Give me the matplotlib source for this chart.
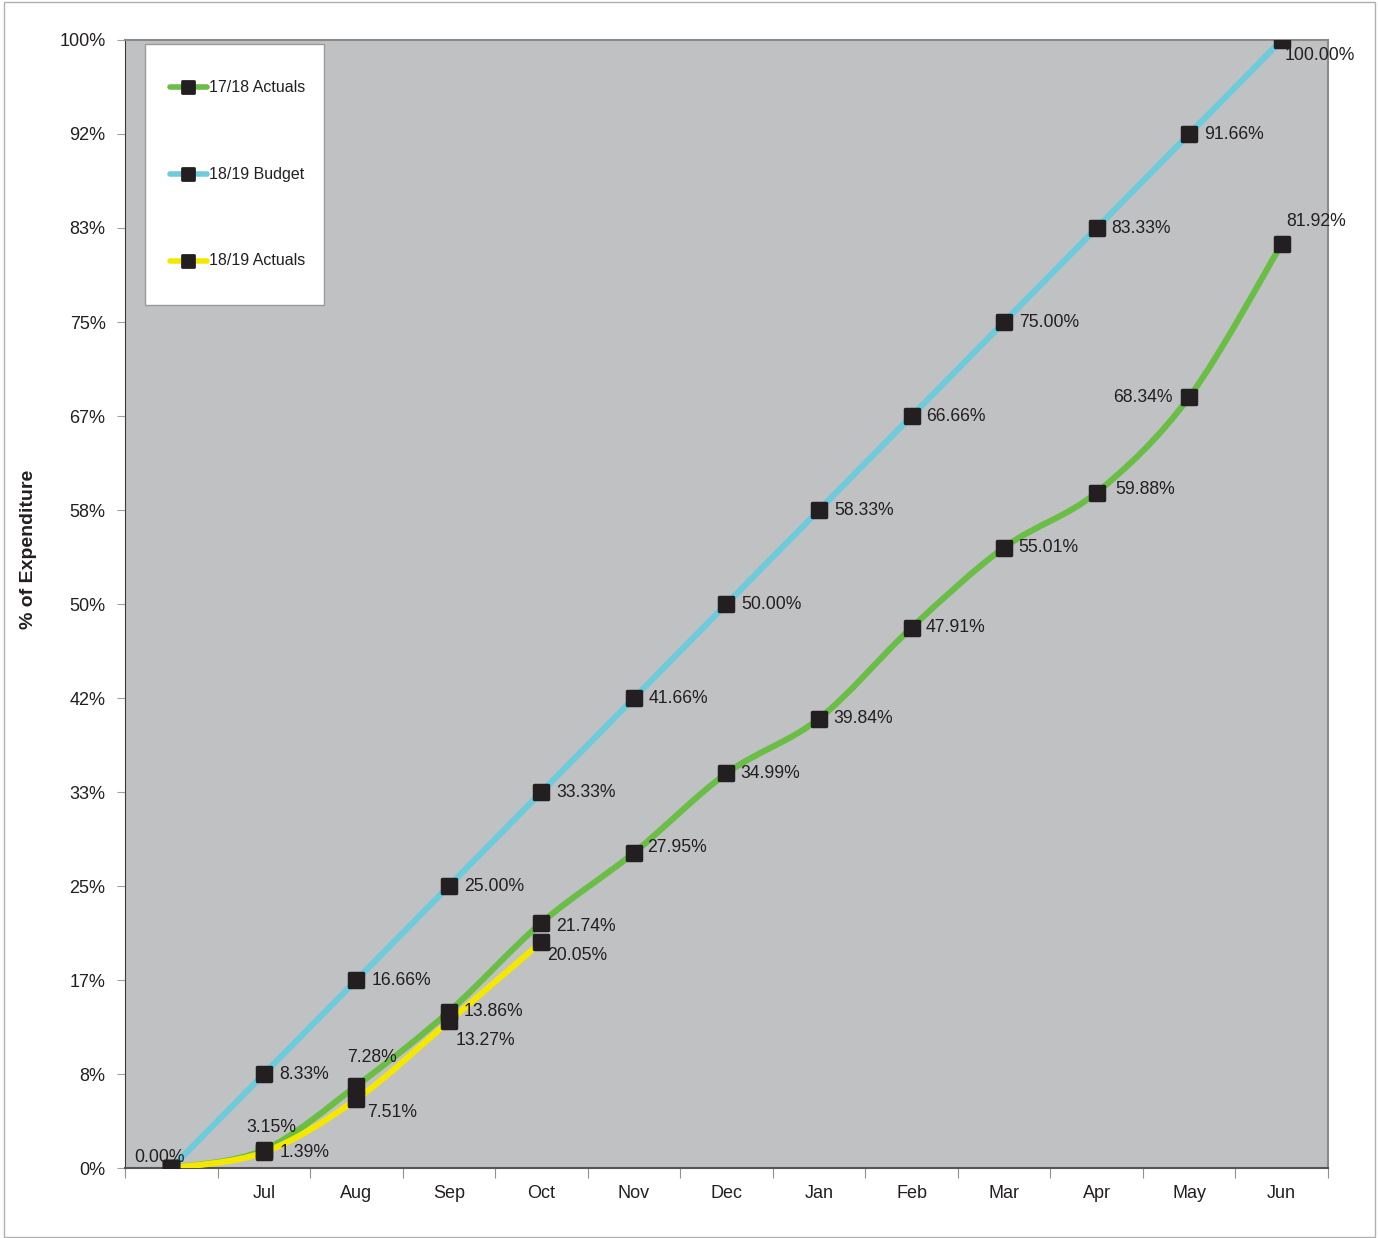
import numpy as np
import matplotlib.pyplot as plt
from matplotlib.path import Path
from matplotlib.patches import PathPatch, Rectangle
from matplotlib.markers import MarkerStyle
from matplotlib.lines import Line2D

plt.rcParams['font.family'] = ['Liberation Sans', 'DejaVu Sans']

months = ['', 'Jul', 'Aug', 'Sep', 'Oct', 'Nov', 'Dec', 'Jan', 'Feb', 'Mar', 'Apr', 'May', 'Jun']

# plotted values (% of expenditure)
actuals_1718 = [0.0, 1.6, 7.28, 13.86, 21.74, 27.95, 34.99, 39.84, 47.91, 55.01, 59.88, 68.34, 81.92]
budget_1819 = [0.0, 8.33, 16.66, 25.0, 33.33, 41.66, 50.0, 58.33, 66.66, 75.0, 83.33, 91.66, 100.0]
actuals_1819 = [0.0, 1.39, 6.1, 13.0, 20.05]

# data label texts as printed on the chart
labels_1718 = ['', '3.15%', '7.28%', '13.86%', '21.74%', '27.95%', '34.99%', '39.84%',
               '47.91%', '55.01%', '59.88%', '68.34%', '81.92%']
labels_budget = ['0.00%', '8.33%', '16.66%', '25.00%', '33.33%', '41.66%', '50.00%',
                 '58.33%', '66.66%', '75.00%', '83.33%', '91.66%', '100.00%']
labels_1819 = ['', '1.39%', '7.51%', '13.27%', '20.05%']
legend_names = ['17/18 Actuals', '18/19 Budget', '18/19 Actuals']

GREEN = '#6abd45'
BLUE = '#6dcbdb'
YELLOW = '#f4e800'
MARK = '#231f20'
BG = '#c0c1c3'


def smooth_path(ys):
    # cubic bezier through the points, like Excel's "smoothed line"
    pts = np.column_stack([np.arange(len(ys)), ys]).astype(float)
    verts = [pts[0]]
    codes = [Path.MOVETO]
    n = len(pts)
    for i in range(n - 1):
        p0 = pts[i - 1] if i > 0 else pts[i]
        p1 = pts[i]
        p2 = pts[i + 1]
        p3 = pts[i + 2] if i + 2 < n else pts[i + 1]
        c1 = p1 + (p2 - p0) / 6.0
        c2 = p2 - (p3 - p1) / 6.0
        verts += [c1, c2, p2]
        codes += [Path.CURVE4] * 3
    return Path(verts, codes)


fig = plt.figure(figsize=(13.78, 12.38), dpi=100)
fig.patches.append(Rectangle((0.003, 0.001), 0.995, 0.997, transform=fig.transFigure,
                             fill=False, edgecolor='#b0b0b0', linewidth=1))
ax = fig.add_axes([0.0907, 0.0565, 0.873, 0.9112])
ax.set_facecolor(BG)

mstyle = MarkerStyle('s', joinstyle='round')
series = [(actuals_1718, GREEN), (budget_1819, BLUE), (actuals_1819, YELLOW)]
for ys, col in series:
    ax.add_patch(PathPatch(smooth_path(ys), facecolor='none', edgecolor=col,
                           linewidth=4.4, capstyle='round', zorder=3))
for ys, col in series:
    ax.plot(range(len(ys)), ys, linestyle='none', marker=mstyle, markersize=10,
            markerfacecolor=MARK, markeredgecolor=MARK, markeredgewidth=2.5, zorder=5)

fs = 12.7


def lab(x, y, txt, dx, dy, ha='left'):
    if txt:
        ax.annotate(txt, (x, y), xytext=(dx, dy), textcoords='offset pixels',
                    ha=ha, va='center', fontsize=fs, color='#231f20', zorder=6)


# budget labels
for i, (v, t) in enumerate(zip(budget_1819, labels_budget)):
    if i == 0:
        lab(i, v, t, -12, 11, 'center')
    elif i == 12:
        lab(i, v, t, 3, -16)
    else:
        lab(i, v, t, 15, 0)

# 17/18 actual labels
off_1718 = {1: (7, 23, 'center'), 2: (16, 28, 'center'), 3: (15, 0, 'left'),
            4: (15, -4, 'left'), 5: (13, 5, 'left'), 10: (19, 3, 'left'),
            11: (-17, 0, 'right'), 12: (34, 22, 'center')}
for i, (v, t) in enumerate(zip(actuals_1718, labels_1718)):
    dx, dy, ha = off_1718.get(i, (14, 0, 'left'))
    lab(i, v, t, dx, dy, ha)

# 18/19 actual labels
off_1819 = {1: (16, 0), 2: (11, -13), 3: (7, -19), 4: (6, -14)}
for i, (v, t) in enumerate(zip(actuals_1819, labels_1819)):
    if i in off_1819:
        lab(i, v, t, *off_1819[i])

ax.set_xlim(-0.5, 12.5)
ax.set_ylim(0, 100)
yt = np.linspace(0, 100, 13)
ax.set_yticks(yt)
ax.set_yticklabels([f'{v:.0f}%' for v in yt], fontsize=13, color='#231f20')
ax.tick_params(axis='y', length=6, color='#a0a0a0', pad=8)

ax.set_xticks(np.arange(-0.5, 13, 1))
ax.set_xticklabels([])
ax.tick_params(axis='x', which='major', length=7, color='#909090')
ax.set_xticks(np.arange(13), minor=True)
ax.set_xticklabels(months, minor=True, fontsize=13, color='#231f20')
ax.tick_params(axis='x', which='minor', length=0, pad=12)

ax.spines['left'].set_color('#3a3a3a')
ax.spines['bottom'].set_color('#555555')
ax.spines['bottom'].set_linewidth(1.5)
ax.spines['top'].set_color('#8a8a8a')
ax.spines['right'].set_color('#8a8a8a')
ax.spines['top'].set_linewidth(1.5)
ax.spines['right'].set_linewidth(1.5)

fig.text(0.021, 0.5565, '% of Expenditure', rotation=90, ha='center', va='center',
         fontsize=14, fontweight='bold', color='#231f20')

# legend box drawn by hand to match the tall spacing of the original
ax.add_patch(Rectangle((0.0166, 0.765), 0.1488, 0.2314, transform=ax.transAxes,
                       facecolor='white', edgecolor='#9a9a9a', linewidth=1, zorder=10))
for k, (name, col) in enumerate(zip(legend_names, (GREEN, BLUE, YELLOW))):
    yy = 0.9583 - k * 0.0771
    ax.add_line(Line2D([0.0374, 0.0682], [yy, yy], transform=ax.transAxes, color=col,
                       linewidth=4, solid_capstyle='round', zorder=11))
    ax.add_line(Line2D([0.0524], [yy], transform=ax.transAxes, linestyle='none',
                       marker=mstyle, markersize=9, markerfacecolor=MARK,
                       markeredgecolor=MARK, markeredgewidth=2, zorder=12))
    ax.text(0.0702, yy, name, transform=ax.transAxes, ha='left', va='center',
            fontsize=11.5, color='#231f20', zorder=12)

fig.savefig('out.png', dpi=100)
